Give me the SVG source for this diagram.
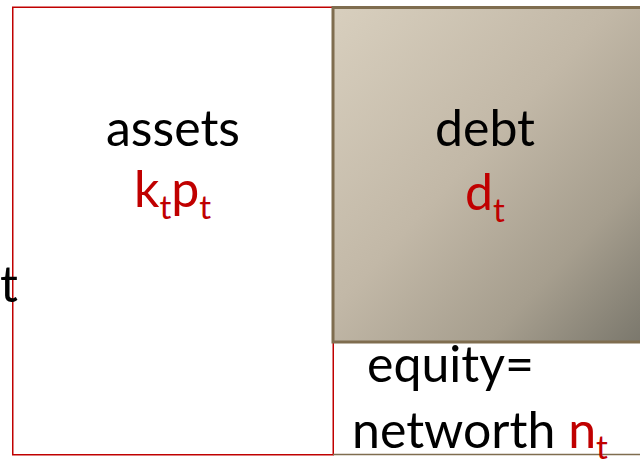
<svg xmlns="http://www.w3.org/2000/svg" width="640" height="463" viewBox="0 0 640 463">
<style>
.lbl{font-family:Lato,"Open Sans","Liberation Sans",sans-serif;fill:#000;font-size:50px}
.red{fill:#c00000}
.sub{font-size:33px}
</style>
<defs>
<linearGradient id="g" x1="0" y1="0" x2="1" y2="1">
<stop offset="0" stop-color="#d8cfbe"/>
<stop offset="0.45" stop-color="#c2b8a7"/>
<stop offset="0.75" stop-color="#a69e8e"/>
<stop offset="1" stop-color="#7a776c"/>
</linearGradient>
</defs>
<rect width="640" height="463" fill="#fff"/>
<g id="assets">
<rect x="12.75" y="7.25" width="320.5" height="447.5" fill="none" stroke="#c00000" stroke-width="1.5"/>
<text class="lbl" x="173" y="146" text-anchor="middle">assets</text>
<text class="lbl red" x="134" y="207">k<tspan class="sub" dy="12">t</tspan><tspan dy="-12">p</tspan><tspan class="sub" dy="12">t</tspan></text>
</g>
<g id="debt">
<rect x="333" y="7.5" width="310" height="334.5" fill="url(#g)" stroke="#7f6d4f" stroke-width="3"/>
<text class="lbl" x="485" y="146" text-anchor="middle">debt</text>
<text class="lbl red" x="465" y="210">d<tspan class="sub" dy="12">t</tspan></text>
</g>
<g id="equity">
<line x1="333" y1="454.5" x2="640" y2="454.5" stroke="#7f6d4f" stroke-width="1.5"/>
<text class="lbl" x="367" y="382">equity=</text>
<text class="lbl" x="352" y="448">networth <tspan class="red">n</tspan><tspan class="red sub" dy="11">t</tspan></text>
</g>
<g id="side">
<text class="lbl" x="0" y="302">t</text>
</g>
<g id="connectors"></g>
</svg>
